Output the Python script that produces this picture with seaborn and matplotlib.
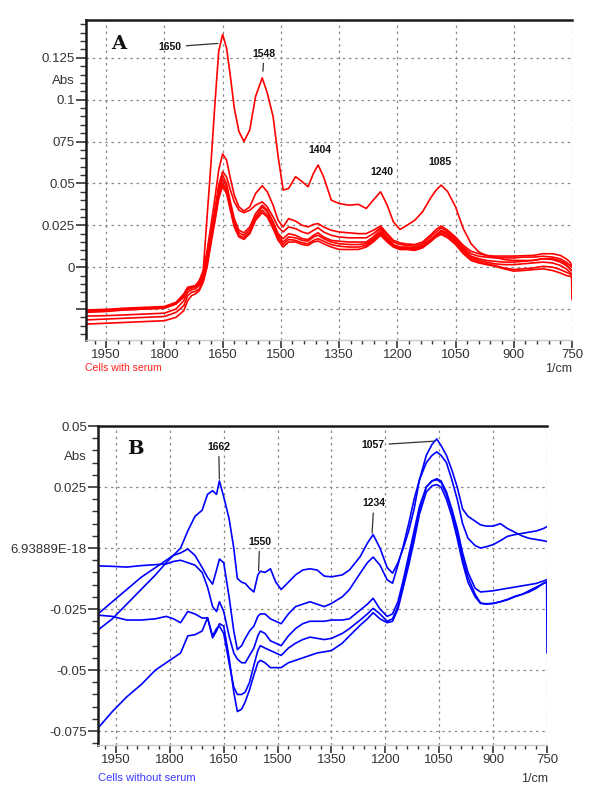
import pandas as pd
import matplotlib
matplotlib.use("Agg")
import matplotlib.pyplot as plt
import matplotlib.transforms as mtransforms
from matplotlib.ticker import FixedLocator, MultipleLocator
import seaborn as sns

# ---- Panel A: cells with serum (wavenumber, 1/cm) ----
wn_a = [2000, 1950, 1900, 1850, 1800, 1770, 1750, 1740, 1730, 1720,
        1710, 1700, 1690, 1680, 1670, 1660, 1650, 1640, 1630, 1620,
        1608, 1595, 1580, 1565, 1548, 1535, 1520, 1507, 1494, 1480,
        1462, 1445, 1430, 1416, 1404, 1390, 1370, 1350, 1325, 1300,
        1280, 1262, 1243, 1226, 1210, 1193, 1175, 1155, 1135, 1115,
        1100, 1087, 1070, 1050, 1030, 1010, 990, 970, 950, 925,
        900, 875, 850, 825, 800, 780, 765, 755, 751, 750]

a1 = [-0.027, -0.0265, -0.0255, -0.025, -0.0245, -0.022, -0.017, -0.013, -0.012, -0.011,
      -0.008, -0.002, 0.030, 0.062, 0.097, 0.129, 0.139, 0.131, 0.114, 0.095,
      0.081, 0.075, 0.082, 0.102, 0.113, 0.104, 0.090, 0.066, 0.046, 0.047,
      0.054, 0.051, 0.048, 0.056, 0.061, 0.054, 0.040, 0.038, 0.037, 0.0375,
      0.035, 0.040, 0.045, 0.037, 0.027, 0.0225, 0.025, 0.028, 0.033, 0.041,
      0.046, 0.049, 0.045, 0.036, 0.023, 0.014, 0.009, 0.007, 0.006, 0.0045,
      0.004, 0.004, 0.004, 0.005, 0.005, 0.004, 0.002, -0.001, -0.002, -0.002]
a2 = [-0.0256, -0.0252, -0.0245, -0.024, -0.0235, -0.021, -0.016, -0.012, -0.0115, -0.011,
      -0.0085, -0.003, 0.010, 0.025, 0.041, 0.058, 0.0676, 0.064, 0.053, 0.043,
      0.036, 0.0335, 0.036, 0.044, 0.0486, 0.045, 0.037, 0.028, 0.024, 0.029,
      0.0275, 0.025, 0.024, 0.0255, 0.026, 0.024, 0.022, 0.021, 0.0205, 0.020,
      0.020, 0.022, 0.0246, 0.020, 0.016, 0.0145, 0.0138, 0.0135, 0.015, 0.019,
      0.0225, 0.0246, 0.022, 0.018, 0.013, 0.0095, 0.008, 0.007, 0.0066, 0.0066,
      0.0066, 0.0068, 0.007, 0.008, 0.008, 0.007, 0.005, 0.003, 0.001, 0.001]
a3 = [-0.026, -0.0258, -0.025, -0.0245, -0.024, -0.0215, -0.0165, -0.0125, -0.012, -0.0115,
      -0.009, -0.004, 0.008, 0.021, 0.034, 0.049, 0.057, 0.054, 0.046, 0.039,
      0.034, 0.0325, 0.034, 0.037, 0.039, 0.036, 0.030, 0.024, 0.021, 0.024,
      0.023, 0.021, 0.020, 0.022, 0.0235, 0.021, 0.019, 0.018, 0.0175, 0.0175,
      0.0175, 0.020, 0.0236, 0.019, 0.015, 0.0135, 0.013, 0.0125, 0.014, 0.018,
      0.021, 0.0235, 0.021, 0.017, 0.012, 0.008, 0.0065, 0.006, 0.0055, 0.0055,
      0.0055, 0.006, 0.006, 0.0065, 0.006, 0.005, 0.003, 0.001, 0.0, 0.0]
a4 = [-0.0292, -0.029, -0.0285, -0.028, -0.0275, -0.025, -0.020, -0.015, -0.0135, -0.013,
      -0.011, -0.006, 0.005, 0.019, 0.033, 0.047, 0.055, 0.050, 0.039, 0.029,
      0.022, 0.0205, 0.024, 0.032, 0.037, 0.034, 0.027, 0.020, 0.017, 0.020,
      0.019, 0.017, 0.0165, 0.019, 0.0205, 0.018, 0.016, 0.0155, 0.015, 0.015,
      0.015, 0.018, 0.0225, 0.0175, 0.0135, 0.012, 0.012, 0.0115, 0.013, 0.0165,
      0.0195, 0.022, 0.020, 0.016, 0.011, 0.0065, 0.005, 0.004, 0.0035, 0.003,
      0.003, 0.0035, 0.004, 0.005, 0.0045, 0.003, 0.001, -0.001, -0.002, -0.002]
a5 = [-0.0265, -0.026, -0.0255, -0.025, -0.0245, -0.022, -0.018, -0.0135, -0.0125, -0.012,
      -0.0105, -0.006, 0.004, 0.018, 0.031, 0.045, 0.0526, 0.048, 0.037, 0.027,
      0.0205, 0.019, 0.0225, 0.030, 0.036, 0.033, 0.026, 0.019, 0.015, 0.018,
      0.0175, 0.016, 0.0155, 0.018, 0.019, 0.017, 0.015, 0.014, 0.0135, 0.0135,
      0.014, 0.017, 0.021, 0.017, 0.013, 0.0115, 0.0115, 0.011, 0.0125, 0.016,
      0.019, 0.0215, 0.0195, 0.0155, 0.010, 0.006, 0.004, 0.003, 0.002, 0.0015,
      0.0015, 0.002, 0.0025, 0.003, 0.0025, 0.001, -0.001, -0.003, -0.004, -0.004]
a6 = [-0.0315, -0.031, -0.0305, -0.030, -0.0295, -0.027, -0.023, -0.017, -0.015, -0.0145,
      -0.013, -0.008, 0.002, 0.016, 0.029, 0.043, 0.050, 0.046, 0.035, 0.025,
      0.019, 0.0176, 0.021, 0.029, 0.034, 0.031, 0.024, 0.0175, 0.0135, 0.0165,
      0.016, 0.0145, 0.014, 0.016, 0.017, 0.0155, 0.0135, 0.0125, 0.012, 0.012,
      0.013, 0.016, 0.020, 0.016, 0.0125, 0.011, 0.011, 0.0105, 0.012, 0.0155,
      0.0185, 0.0205, 0.0185, 0.0145, 0.009, 0.005, 0.003, 0.002, 0.001, -0.0005,
      -0.0014, -0.001, -0.0005, 0.0005, 0.0, -0.0015, -0.003, -0.004, -0.005, -0.005]
a7 = [-0.034, -0.0335, -0.033, -0.0325, -0.032, -0.030, -0.026, -0.020, -0.017, -0.016,
      -0.014, -0.009, 0.000, 0.014, 0.027, 0.041, 0.0484, 0.044, 0.034, 0.024,
      0.018, 0.0166, 0.020, 0.028, 0.0325, 0.030, 0.023, 0.016, 0.012, 0.015,
      0.015, 0.0135, 0.013, 0.015, 0.0156, 0.014, 0.012, 0.0106, 0.0105, 0.0106,
      0.012, 0.015, 0.019, 0.015, 0.012, 0.0105, 0.0105, 0.010, 0.0115, 0.015,
      0.018, 0.0195, 0.0175, 0.0135, 0.008, 0.004, 0.0025, 0.0015, 0.0006, -0.001,
      -0.0024, -0.002, -0.0015, -0.001, -0.002, -0.0035, -0.005, -0.0055, -0.006, -0.0194]

# ---- Panel B: cells without serum ----
wn_b = [2000, 1960, 1920, 1880, 1840, 1810, 1790, 1770, 1750, 1730,
        1710, 1695, 1681, 1670, 1662, 1650, 1635, 1622, 1612, 1600,
        1590, 1578, 1566, 1555, 1548, 1535, 1520, 1505, 1490, 1470,
        1450, 1430, 1410, 1390, 1370, 1350, 1320, 1300, 1270, 1250,
        1234, 1215, 1195, 1180, 1165, 1150, 1135, 1120, 1105, 1086,
        1070, 1057, 1045, 1030, 1015, 1000, 985, 970, 950, 935,
        920, 900, 880, 860, 840, 820, 800, 780, 760, 751, 750]

b1 = [-0.0336, -0.029, -0.023, -0.017, -0.011, -0.006, -0.003, 0.000, 0.007, 0.013,
      0.0155, 0.022, 0.0235, 0.022, 0.0275, 0.021, 0.012, 0.000, -0.0125, -0.014,
      -0.0145, -0.0165, -0.018, -0.011, -0.0095, -0.010, -0.0085, -0.014, -0.017, -0.014,
      -0.011, -0.009, -0.0085, -0.009, -0.0115, -0.0118, -0.011, -0.009, -0.0035, 0.002,
      0.0055, 0.000, -0.008, -0.0103, -0.006, 0.000, 0.007, 0.016, 0.028, 0.038,
      0.0425, 0.0447, 0.042, 0.038, 0.032, 0.025, 0.016, 0.013, 0.011, 0.0095,
      0.009, 0.009, 0.010, 0.008, 0.0065, 0.005, 0.004, 0.0035, 0.003, 0.0027, 0.0027]
b2 = [-0.027, -0.022, -0.017, -0.012, -0.008, -0.005, -0.003, -0.002, -0.0004, -0.003,
      -0.008, -0.012, -0.0148, -0.009, -0.0045, -0.006, -0.020, -0.034, -0.0416, -0.040,
      -0.037, -0.034, -0.032, -0.028, -0.027, -0.027, -0.029, -0.030, -0.031, -0.027,
      -0.024, -0.023, -0.022, -0.023, -0.024, -0.0227, -0.020, -0.017, -0.0103, -0.006,
      -0.0037, -0.007, -0.013, -0.0144, -0.007, 0.001, 0.010, 0.020, 0.028, 0.035,
      0.038, 0.0394, 0.038, 0.035, 0.028, 0.020, 0.010, 0.004, 0.001, 0.000,
      0.0005, 0.0014, 0.003, 0.0048, 0.0055, 0.006, 0.0065, 0.007, 0.008, 0.0087, 0.0087]
b3 = [-0.0073, -0.0075, -0.0078, -0.0072, -0.0068, -0.0065, -0.0055, -0.005, -0.006, -0.007,
      -0.010, -0.016, -0.024, -0.026, -0.022, -0.026, -0.036, -0.043, -0.0455, -0.047,
      -0.047, -0.044, -0.041, -0.036, -0.034, -0.035, -0.038, -0.039, -0.040, -0.036,
      -0.033, -0.031, -0.030, -0.030, -0.030, -0.0295, -0.0295, -0.029, -0.0254, -0.023,
      -0.0206, -0.025, -0.028, -0.027, -0.022, -0.013, -0.003, 0.007, 0.017, 0.025,
      0.0275, 0.0284, 0.0275, 0.023, 0.016, 0.008, -0.002, -0.010, -0.0165, -0.018,
      -0.0178, -0.0175, -0.017, -0.0165, -0.016, -0.0155, -0.015, -0.0145, -0.0135, -0.013, -0.013]
b4 = [-0.0275, -0.028, -0.0295, -0.0295, -0.029, -0.028, -0.029, -0.0306, -0.026, -0.027,
      -0.0287, -0.0286, -0.036, -0.033, -0.032, -0.035, -0.047, -0.057, -0.060, -0.060,
      -0.059, -0.055, -0.048, -0.042, -0.040, -0.041, -0.042, -0.043, -0.044, -0.041,
      -0.039, -0.0375, -0.0365, -0.037, -0.0375, -0.037, -0.035, -0.033, -0.0295, -0.027,
      -0.0247, -0.027, -0.030, -0.029, -0.024, -0.015, -0.005, 0.005, 0.016, 0.025,
      0.0275, 0.028, 0.027, 0.022, 0.015, 0.006, -0.004, -0.012, -0.019, -0.0225,
      -0.023, -0.0227, -0.022, -0.021, -0.0198, -0.019, -0.018, -0.0165, -0.0145, -0.0138, -0.0138]
b5 = [-0.0738, -0.067, -0.061, -0.056, -0.050, -0.047, -0.045, -0.043, -0.036, -0.0355,
      -0.034, -0.0285, -0.0368, -0.034, -0.031, -0.032, -0.045, -0.059, -0.067, -0.066,
      -0.063, -0.058, -0.052, -0.047, -0.046, -0.047, -0.049, -0.049, -0.049, -0.047,
      -0.046, -0.045, -0.044, -0.043, -0.0425, -0.042, -0.039, -0.036, -0.0316, -0.029,
      -0.0265, -0.029, -0.0306, -0.030, -0.025, -0.016, -0.007, 0.003, 0.014, 0.023,
      0.0255, 0.026, 0.025, 0.020, 0.013, 0.004, -0.006, -0.014, -0.020, -0.0227,
      -0.0228, -0.0227, -0.022, -0.0212, -0.020, -0.019, -0.0175, -0.016, -0.0145, -0.014, -0.043]

x_ticks = [1950, 1800, 1650, 1500, 1350, 1200, 1050, 900, 750]
a_yticks = [0.125, 0.1, 0.075, 0.05, 0.025, 0, -0.025]
a_ylabels = ["0.125", "0.1", "075", "0.05", "0.025", "0", ""]
b_yticks = [0.05, 0.025, 0, -0.025, -0.05, -0.075]
b_ylabels = ["0.05", "0.025", "6.93889E-18", "-0.025", "-0.05", "-0.075"]


def long_form(wn, curves):
    parts = []
    for i, vals in enumerate(curves):
        assert len(vals) == len(wn)
        parts.append(pd.DataFrame({"wavenumber": wn, "absorbance": vals, "spectrum": f"s{i}"}))
    return pd.concat(parts, ignore_index=True)


df_a = long_form(wn_a, [a1, a2, a3, a4, a5, a6, a7])
df_b = long_form(wn_b, [b1, b2, b3, b4, b5])

sns.set_theme(style="white")
plt.rcParams["font.family"] = ["Liberation Sans", "DejaVu Sans"]

fig = plt.figure(figsize=(6, 7.99), dpi=100)
ax_a = fig.add_axes([0.1433, 0.5745, 0.81, 0.4005])
ax_b = fig.add_axes([0.1633, 0.0676, 0.7484, 0.3992])

sns.lineplot(data=df_a, x="wavenumber", y="absorbance", hue="spectrum",
             palette=["#ff0000"] * 7, estimator=None, sort=False, legend=False,
             lw=1.2, ax=ax_a)
sns.lineplot(data=df_b, x="wavenumber", y="absorbance", hue="spectrum",
             palette=["#0000ff"] * 5, estimator=None, sort=False, legend=False,
             lw=1.2, ax=ax_b)


def style_panel(ax, xlim, ylim, yticks, ylabels, abs_x, abs_y):
    ax.set_xlim(*xlim)
    ax.set_ylim(*ylim)
    ax.set_xlabel("")
    ax.set_ylabel("")
    ax.xaxis.set_major_locator(FixedLocator(x_ticks))
    ax.set_xticklabels([str(t) for t in x_ticks])
    ax.xaxis.set_minor_locator(MultipleLocator(30))
    ax.yaxis.set_major_locator(FixedLocator(yticks))
    ax.set_yticklabels(ylabels)
    ax.yaxis.set_minor_locator(MultipleLocator(0.005))
    ax.set_axisbelow(True)
    ax.grid(True, which="major", color="#8a8a8a", linestyle=(0, (2, 3)), linewidth=0.9)
    ax.grid(False, which="minor")
    for side in ["top", "left"]:
        ax.spines[side].set_color("#1a1a1a")
        ax.spines[side].set_linewidth(1.8)
    ax.spines["bottom"].set_color("#c8c8c8")
    ax.spines["bottom"].set_linewidth(1.0)
    ax.spines["right"].set_visible(False)
    ax.tick_params(axis="both", which="both", direction="out", color="#333333",
                   labelcolor="#333333", labelsize=9.5, bottom=True, left=True)
    ax.tick_params(axis="y", which="major", length=7, width=1.2, pad=1)
    ax.tick_params(axis="y", which="minor", length=4, width=1.0)
    ax.tick_params(axis="x", which="major", length=6, width=1.2, pad=0.5)
    ax.tick_params(axis="x", which="minor", length=3, width=1.0)
    trans = mtransforms.blended_transform_factory(ax.transAxes, ax.transData)
    ax.text(abs_x, abs_y, "Abs", transform=trans, ha="right", va="center",
            fontsize=9.5, color="#333333")


style_panel(ax_a, (2002, 750), (-0.0435, 0.1476), a_yticks, a_ylabels, -0.0226, 0.1112)
style_panel(ax_b, (2000, 750), (-0.0807, 0.05), b_yticks, b_ylabels, -0.0245, 0.0372)

peak_font = dict(fontsize=7.5, fontweight="bold", color="#111111", ha="center", va="center")
line_props = dict(arrowstyle="-", color="#333333", lw=0.9, shrinkA=1, shrinkB=0)

# panel letters
ax_a.text(1919, 0.1335, "A", family="DejaVu Serif", fontweight="bold",
          fontsize=14, ha="center", va="center", color="#111111")
ax_b.text(1897, 0.0406, "B", family="DejaVu Serif", fontweight="bold",
          fontsize=14, ha="center", va="center", color="#111111")

# peak labels, panel A
ax_a.annotate("1650", xy=(1662, 0.1336), xytext=(1785, 0.1315), arrowprops=line_props, **peak_font)
ax_a.annotate("1548", xy=(1546, 0.1170), xytext=(1544, 0.1275), arrowprops=line_props, **peak_font)
ax_a.text(1399, 0.0702, "1404", **peak_font)
ax_a.text(1239, 0.0567, "1240", **peak_font)
ax_a.text(1089, 0.0629, "1085", **peak_font)

# peak labels, panel B
ax_b.annotate("1662", xy=(1662, 0.0283), xytext=(1664, 0.0415), arrowprops=line_props, **peak_font)
ax_b.annotate("1550", xy=(1553, -0.0093), xytext=(1550, 0.0026), arrowprops=line_props, **peak_font)
ax_b.annotate("1234", xy=(1237, 0.0061), xytext=(1232, 0.0183), arrowprops=line_props, **peak_font)
ax_b.annotate("1057", xy=(1064, 0.0438), xytext=(1235, 0.0422), arrowprops=line_props, **peak_font)

# captions under each panel
fig.text(85 / 600, 1 - 368 / 799, "Cells with serum", color="#ff2020", fontsize=7.5,
         ha="left", va="center")
fig.text(572 / 600, 1 - 369 / 799, "1/cm", color="#333333", fontsize=9,
         ha="right", va="center")
fig.text(98 / 600, 1 - 778 / 799, "Cells without serum", color="#3a3aff", fontsize=8,
         ha="left", va="center")
fig.text(548 / 600, 1 - 779 / 799, "1/cm", color="#333333", fontsize=9,
         ha="right", va="center")

fig.savefig("out.png", dpi=100)
